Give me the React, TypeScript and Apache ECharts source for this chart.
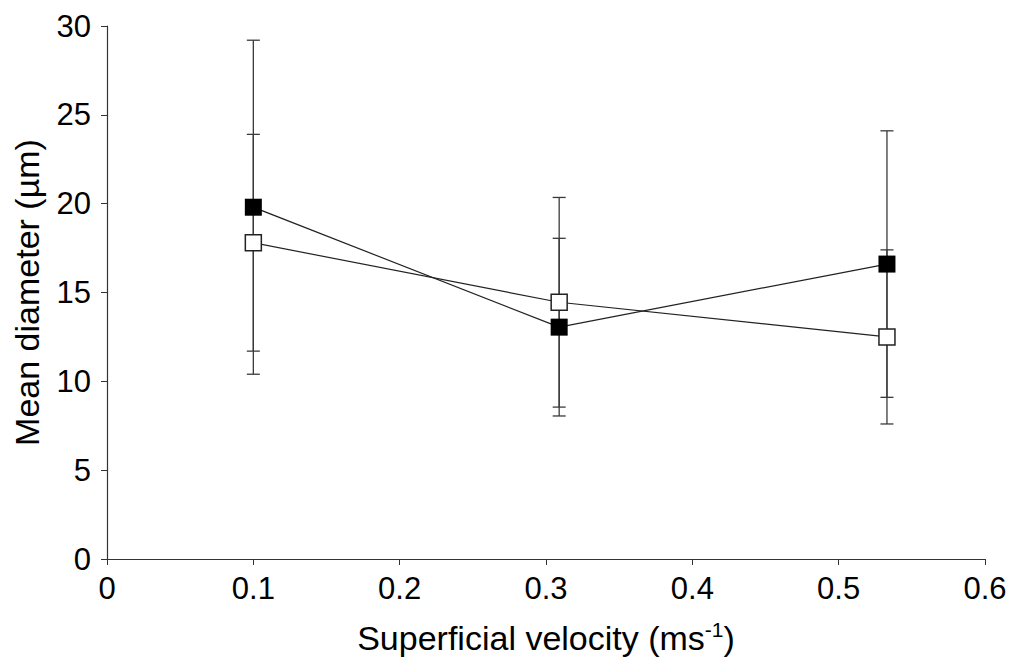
import React, { useEffect, useRef } from "react";
import * as echarts from "echarts";

const velocities = [0.1, 0.309, 0.533];
const filledMean = [19.8, 13.05, 16.6];
const filledErr = [9.4, 5.0, 7.5];
const openMean = [17.8, 14.45, 12.5];
const openErr = [6.1, 5.9, 4.9];
const xTicks = [0, 0.1, 0.2, 0.3, 0.4, 0.5, 0.6];
const yTicks = [0, 5, 10, 15, 20, 25, 30];

const FONT = "'Liberation Sans', Arial, sans-serif";

function errData(mean: number[], err: number[]) {
  return velocities.map((v, i) => [v, mean[i] - err[i], mean[i] + err[i]]);
}

function errRender(params: any, api: any) {
  const x = api.value(0);
  const lo = api.coord([x, api.value(1)]);
  const hi = api.coord([x, api.value(2)]);
  const hw = 6.5;
  const st = { stroke: "#3a3a3a", lineWidth: 1.3 };
  return {
    type: "group",
    children: [
      { type: "line", shape: { x1: hi[0], y1: hi[1], x2: lo[0], y2: lo[1] }, style: st },
      { type: "line", shape: { x1: hi[0] - hw, y1: hi[1], x2: hi[0] + hw, y2: hi[1] }, style: st },
      { type: "line", shape: { x1: lo[0] - hw, y1: lo[1], x2: lo[0] + hw, y2: lo[1] }, style: st },
    ],
  };
}

export default function App() {
  const ref = useRef<HTMLDivElement>(null);
  useEffect(() => {
    const chart = echarts.init(ref.current!, null, { renderer: "svg" });
    chart.setOption({
      animation: false,
      backgroundColor: "#ffffff",
      grid: { left: 107, top: 26, right: 28, bottom: 102 },
      xAxis: {
        type: "value",
        min: xTicks[0],
        max: xTicks[xTicks.length - 1],
        interval: 0.1,
        axisLine: { lineStyle: { color: "#333", width: 1.2 } },
        axisTick: { inside: false, length: 6, lineStyle: { color: "#333" } },
        splitLine: { show: false },
        axisLabel: {
          color: "#000",
          fontSize: 31,
          fontFamily: FONT,
          margin: 14,
          formatter: (v: number) => (v === 0 ? "0" : v.toFixed(1)),
        },
        name: "{n|Superficial velocity (ms}{s|-1}{n|)}",
        nameLocation: "middle",
        nameGap: 60,
        nameTextStyle: {
          rich: {
            n: { fontSize: 34, fontFamily: FONT, color: "#000" },
            s: { fontSize: 21, fontFamily: FONT, color: "#000", verticalAlign: "top", padding: [0, 0, 17, 0] },
          },
        },
      },
      yAxis: {
        type: "value",
        min: yTicks[0],
        max: yTicks[yTicks.length - 1],
        interval: 5,
        axisLine: { show: true, lineStyle: { color: "#333", width: 1.2 } },
        axisTick: { show: true, inside: false, length: 6, lineStyle: { color: "#333" } },
        splitLine: { show: false },
        axisLabel: { color: "#000", fontSize: 31, fontFamily: FONT, margin: 16 },
        name: "Mean diameter (µm)",
        nameLocation: "middle",
        nameGap: 63,
        nameTextStyle: { fontSize: 34, fontFamily: FONT, color: "#000" },
      },
      series: [
        {
          type: "custom",
          renderItem: errRender,
          data: errData(filledMean, filledErr),
          z: 1,
        },
        {
          type: "custom",
          renderItem: errRender,
          data: errData(openMean, openErr),
          z: 1,
        },
        {
          type: "line",
          data: velocities.map((v, i) => [v, openMean[i]]),
          lineStyle: { color: "#222", width: 1.2 },
          symbol: "rect",
          symbolSize: 16,
          itemStyle: { color: "#ffffff", borderColor: "#222", borderWidth: 1.5 },
          z: 3,
        },
        {
          type: "line",
          data: velocities.map((v, i) => [v, filledMean[i]]),
          lineStyle: { color: "#222", width: 1.2 },
          symbol: "rect",
          symbolSize: 17,
          itemStyle: { color: "#000", borderColor: "#000", borderWidth: 0 },
          z: 4,
        },
      ],
    });
    return () => chart.dispose();
  }, []);
  return <div ref={ref} style={{ width: 1013, height: 661, position: "absolute", left: 0, top: 0 }} />;
}
